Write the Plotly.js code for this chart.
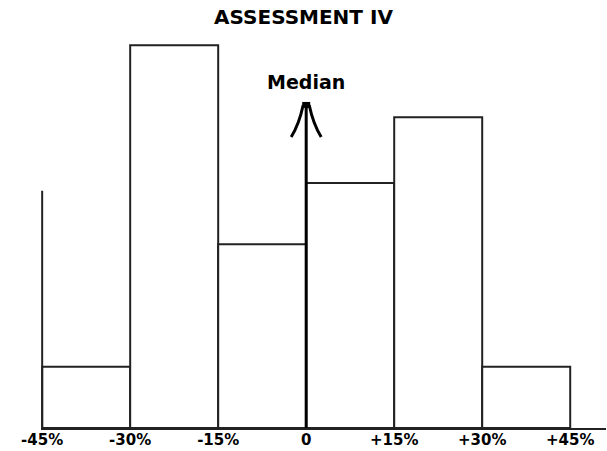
<!DOCTYPE html>
<html>
<head>
<meta charset="utf-8">
<script src="https://cdn.plot.ly/plotly-3.0.1.min.js"></script>
<style>html,body{margin:0;padding:0;background:#fff;}#chart{width:607px;height:451px;}</style>
</head>
<body>
<div id="chart"></div>
<script>
// Data
const binStarts = [-45, -30, -15, 0, 15, 30];
const binWidth = 15;
const binValues = [4, 25, 12, 16, 20.3, 4];
const leftLineX = [-45, -45];
const leftLineY = [0, 15.5];
const medianX = [0, 0];
const medianY = [0, 21.3];
const tickValues = [-45, -30, -15, 0, 15, 30, 45];
const tickLabels = ['-45%', '-30%', '-15%', '0', '+15%', '+30%', '+45%'];
const titleText = 'ASSESSMENT IV';
const medianLabel = 'Median';

const binCenters = binStarts.map(s => s + binWidth / 2);
const fontFam = 'DejaVu Sans, sans-serif';

const traces = [
  {
    type: 'bar',
    x: binCenters,
    y: binValues,
    width: binStarts.map(() => binWidth),
    marker: { color: '#ffffff', line: { color: '#222', width: 2 } },
    hoverinfo: 'skip'
  },
  {
    type: 'scatter', mode: 'lines',
    x: leftLineX, y: leftLineY,
    line: { color: '#222', width: 2 },
    hoverinfo: 'skip'
  },
  {
    type: 'scatter', mode: 'lines',
    x: medianX, y: medianY,
    line: { color: '#000', width: 3 },
    hoverinfo: 'skip'
  }
];

const layout = {
  width: 607, height: 451,
  margin: { l: 41, r: 1, t: 30, b: 23 },
  paper_bgcolor: '#fff', plot_bgcolor: '#fff',
  showlegend: false,
  bargap: 0,
  title: {
    text: titleText,
    font: { family: fontFam, size: 20, color: '#000', weight: 'bold' },
    x: 0.5, xref: 'container', xanchor: 'center',
    y: 1 - 17 / 451, yref: 'container', yanchor: 'middle'
  },
  xaxis: {
    range: [-45.2, 51.1],
    showgrid: false, zeroline: false,
    showline: true, linecolor: '#222', linewidth: 2,
    ticks: '',
    tickvals: tickValues, ticktext: tickLabels,
    ticklabelstandoff: -3,
    tickfont: { family: fontFam, size: 15, color: '#000', weight: 'bold' },
    fixedrange: true
  },
  yaxis: {
    range: [0, 26],
    visible: false,
    fixedrange: true
  },
  shapes: [
    {
      type: 'path',
      xref: 'x', yref: 'y',
      xsizemode: 'pixel', ysizemode: 'pixel',
      xanchor: medianX[1], yanchor: medianY[1],
      path: 'M -15,-35 Q -7,-22 -3,-3 M 15,-35 Q 7,-22 3,-3',
      line: { color: '#000', width: 3 }
    },
    {
      type: 'rect',
      xref: 'x', yref: 'y',
      xsizemode: 'pixel', ysizemode: 'pixel',
      xanchor: medianX[1], yanchor: medianY[1],
      x0: -4, x1: 4, y0: -6, y1: 0,
      fillcolor: '#000', line: { width: 0 }
    }
  ],
  annotations: [
    {
      x: medianX[1], y: medianY[1], xref: 'x', yref: 'y',
      text: medianLabel, showarrow: false,
      xanchor: 'center', yanchor: 'bottom', yshift: 7,
      font: { family: fontFam, size: 19, color: '#000', weight: 'bold' }
    }
  ]
};

Plotly.newPlot('chart', traces, layout, { displayModeBar: false, staticPlot: true });
</script>
</body>
</html>
